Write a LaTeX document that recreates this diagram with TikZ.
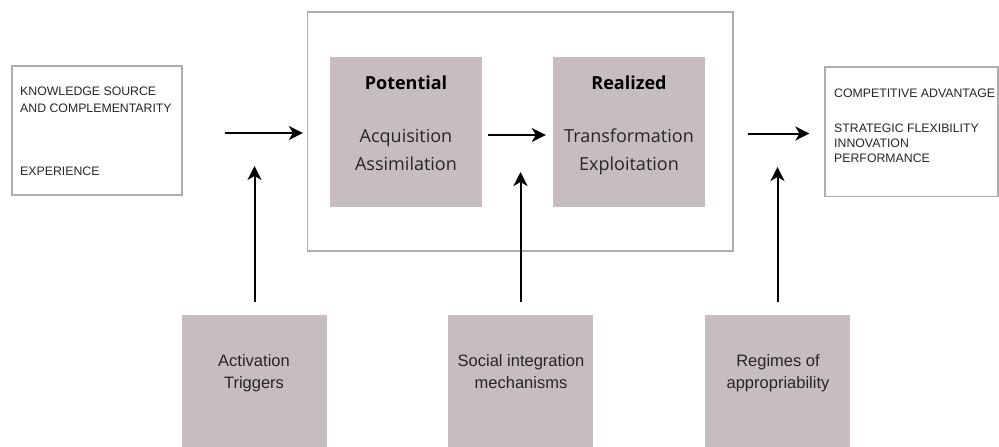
\documentclass[tikz,border=0pt]{standalone}
\usepackage{fontspec}
\setmainfont{Liberation Sans}
\newfontfamily\opensans{Open Sans}
\usetikzlibrary{arrows.meta}
\definecolor{boxgray}{HTML}{C6BEBE}
\definecolor{linegray}{HTML}{ADADAD}
\definecolor{textgray}{HTML}{262626}
\tikzset{
  outbox/.style={draw=linegray, line width=1.2pt, fill=white, inner sep=0pt},
  graybox/.style={fill=boxgray, draw=none, inner sep=0pt},
  capstext/.style={anchor=base west, inner sep=0pt, text=textgray, font=\fontsize{12.3}{15}\selectfont},
  headtext/.style={anchor=base, inner sep=0pt, text=black, font=\opensans\bfseries\fontsize{18}{21}\selectfont},
  stagetext/.style={anchor=base, inner sep=0pt, text=textgray, font=\opensans\fontsize{18}{21}\selectfont},
  facttext/.style={anchor=base, inner sep=0pt, text=textgray, font=\fontsize{16.5}{19}\selectfont},
  flow/.style={-{Stealth[length=14pt,width=14pt,inset=4pt]}, line width=2pt}
}

\begin{document}
\begin{tikzpicture}[x=1pt,y=-1pt]
  \useasboundingbox (0,0) rectangle (999,447);

  % Antecedents box
  \node[outbox, minimum width=170, minimum height=129] (src) at (97,130.5) {};
  \node[capstext] (src1) at (20,95) {KNOWLEDGE SOURCE};
  \node[capstext] (src2) at (20,112) {AND COMPLEMENTARITY};
  \node[capstext] (src3) at (20,175) {EXPERIENCE};

  % Outcomes box
  \node[outbox, minimum width=173, minimum height=129.5] (out) at (911.5,131.75) {};
  \node[capstext] (out1) at (834,97) {COMPETITIVE ADVANTAGE};
  \node[capstext] (out2) at (834,132) {STRATEGIC FLEXIBILITY};
  \node[capstext] (out3) at (834,147) {INNOVATION};
  \node[capstext] (out4) at (834,162) {PERFORMANCE};

  % Absorptive capacity container
  \node[outbox, minimum width=425.5, minimum height=239] (cont) at (520.25,131.5) {};

  % Potential and realized
  \node[graybox, minimum width=152, minimum height=150] (pot) at (406,132) {};
  \node[headtext] (potT) at (406,89) {Potential};
  \node[stagetext] (pot1) at (406,142) {Acquisition};
  \node[stagetext] (pot2) at (406,170) {Assimilation};

  \node[graybox, minimum width=152, minimum height=150] (real) at (629,132) {};
  \node[headtext] (realT) at (629,89) {Realized};
  \node[stagetext] (real1) at (629,142) {Transformation};
  \node[stagetext] (real2) at (629,170) {Exploitation};

  % Contingent factors
  \node[graybox, minimum width=145, minimum height=132] (act) at (254.5,381) {};
  \node[facttext] (act1) at (254,366) {Activation};
  \node[facttext] (act2) at (254,388) {Triggers};

  \node[graybox, minimum width=145, minimum height=132] (soc) at (520.5,381) {};
  \node[facttext] (soc1) at (521,366) {Social integration};
  \node[facttext] (soc2) at (521,388) {mechanisms};

  \node[graybox, minimum width=145, minimum height=132] (reg) at (777.5,381) {};
  \node[facttext] (reg1) at (778,366) {Regimes of};
  \node[facttext] (reg2) at (778,388) {appropriability};

  % Arrows
  \coordinate (inL) at (225,133);
  \coordinate (upA) at (254.5,166);
  \coordinate (upS) at (520.5,172);
  \coordinate (upR) at (777.5,167);
  \draw[flow, shorten >=4pt] (inL) -- (inL -| cont.west);
  \draw[flow, shorten <=6pt, shorten >=7pt] ([yshift=-3pt]pot.east) -- ([yshift=-3pt]real.west);
  \draw[flow, shorten <=14pt, shorten >=15pt] ([yshift=-2pt]cont.east) -- ([yshift=-2pt]cont.east -| out.west);
  \draw[flow, shorten <=13pt] (act.north) -- (upA);
  \draw[flow, shorten <=13pt] (soc.north) -- (upS);
  \draw[flow, shorten <=13pt] (reg.north) -- (upR);
\end{tikzpicture}
\end{document}
